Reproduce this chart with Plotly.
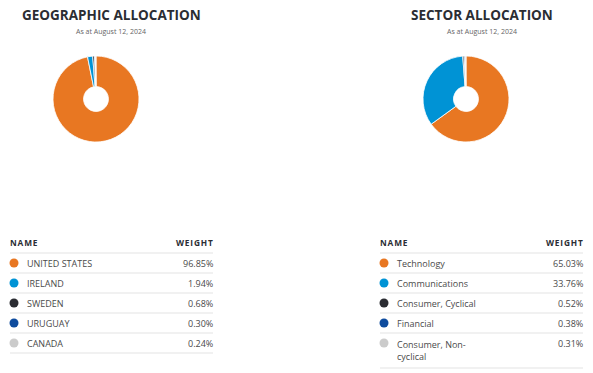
import plotly.graph_objects as go

# ---- data ----
geo_names = ["UNITED STATES", "IRELAND", "SWEDEN", "URUGUAY", "CANADA"]
geo_weights = [96.85, 1.94, 0.68, 0.30, 0.24]
sector_names = ["Technology", "Communications", "Consumer, Cyclical", "Financial", "Consumer, Non-<br>cyclical"]
sector_weights = [65.03, 33.76, 0.52, 0.38, 0.31]
slice_colors = ["#E87722", "#0093D5", "#2B2D33", "#0F4C9E", "#CBCBCB"]
titles = ["GEOGRAPHIC ALLOCATION", "SECTOR ALLOCATION"]
subtitle = "As at August 12, 2024"
header = ["NAME", "WEIGHT"]

W, H = 593, 373
FONT = "Open Sans"
DARK = "#2B2D33"

fig = go.Figure()

# pies
pie_boxes = [(53, 139, 56, 142), (423, 509, 56, 142)]
for (x0, x1, y0, y1), vals, names in zip(pie_boxes, [geo_weights, sector_weights], [geo_names, sector_names]):
    fig.add_trace(go.Pie(
        values=vals, labels=[n.replace("<br>", "") for n in names],
        sort=False, direction="clockwise", rotation=0, hole=0.29,
        marker=dict(colors=slice_colors, line=dict(color="white", width=0.8)),
        textinfo="none", showlegend=False,
        domain=dict(x=[x0 / W, x1 / W], y=[1 - y1 / H, 1 - y0 / H]),
    ))

# tables: x axis in pixels, y axis in row units (row i centre at 263 + 20*i px)
tables = [
    dict(names=geo_names, weights=geo_weights, left=10, right=213, dot=14, text=25),
    dict(names=sector_names, weights=sector_weights, left=380, right=583, dot=384, text=395),
]
annotations = []
shapes = []
for tb in tables:
    n = len(tb["names"])
    rows = list(range(n))
    fig.add_trace(go.Scatter(
        x=[tb["dot"]] * n, y=rows, mode="markers",
        marker=dict(size=9, color=slice_colors, line=dict(width=0)),
        showlegend=False, hoverinfo="skip", xaxis="x", yaxis="y",
    ))
    # header
    annotations.append(dict(x=tb["left"], y=-1.05, xref="x", yref="y", xshift=-2,
                            text="<b>" + "&#8202;".join(header[0]) + "</b>",
                            showarrow=False, xanchor="left", yanchor="middle",
                            font=dict(family=FONT, size=8.3, color=DARK)))
    annotations.append(dict(x=tb["right"], y=-1.05, xref="x", yref="y", xshift=2,
                            text="<b>" + "&#8202;".join(header[1]) + "</b>",
                            showarrow=False, xanchor="right", yanchor="middle",
                            font=dict(family=FONT, size=8.3, color=DARK)))
    seps = [-0.5]
    for i, (nm, wt) in enumerate(zip(tb["names"], tb["weights"])):
        lines = nm.count("<br>")
        annotations.append(dict(x=tb["text"], y=i, xref="x", yref="y", text=nm,
                                showarrow=False, xanchor="left", yanchor="middle",
                                yshift=-7 * lines, align="left",
                                font=dict(family=FONT, size=9, color="#4A4A4A")))
        annotations.append(dict(x=tb["right"], y=i, xref="x", yref="y", text=f"{wt:.2f}%",
                                showarrow=False, xanchor="right", yanchor="middle", xshift=2,
                                font=dict(family=FONT, size=9, color="#4A4A4A")))
        seps.append(seps[-1] + 1 + 0.75 * lines)
    for s in seps:
        shapes.append(dict(type="line", xref="x", yref="y", x0=tb["left"], x1=tb["right"],
                           y0=s, y1=s, line=dict(color="#E3E3E3", width=1)))

# titles
for cx, t in zip([111, 481.5], titles):
    annotations.append(dict(x=cx / W, y=1 - 15 / H, xref="paper", yref="paper", text=f"<b>{t}</b>",
                            showarrow=False, xanchor="center", yanchor="middle",
                            font=dict(family=FONT, size=13.5, color=DARK)))
    annotations.append(dict(x=cx / W, y=1 - 31 / H, xref="paper", yref="paper", text=subtitle,
                            showarrow=False, xanchor="center", yanchor="middle",
                            font=dict(family=FONT, size=7, color="#666666")))

fig.update_layout(
    width=W, height=H, margin=dict(l=0, r=0, t=0, b=0),
    paper_bgcolor="white", plot_bgcolor="rgba(0,0,0,0)",
    xaxis=dict(range=[0, W], domain=[0, 1], visible=False, fixedrange=True),
    yaxis=dict(range=[(H - 263) / 20, -263 / 20], domain=[0, 1], visible=False, fixedrange=True),
    annotations=annotations, shapes=shapes, showlegend=False,
)

fig.write_html("out.html", config={"displayModeBar": False},
               post_script="document.body.style.margin='0';document.body.style.overflow='hidden';")
